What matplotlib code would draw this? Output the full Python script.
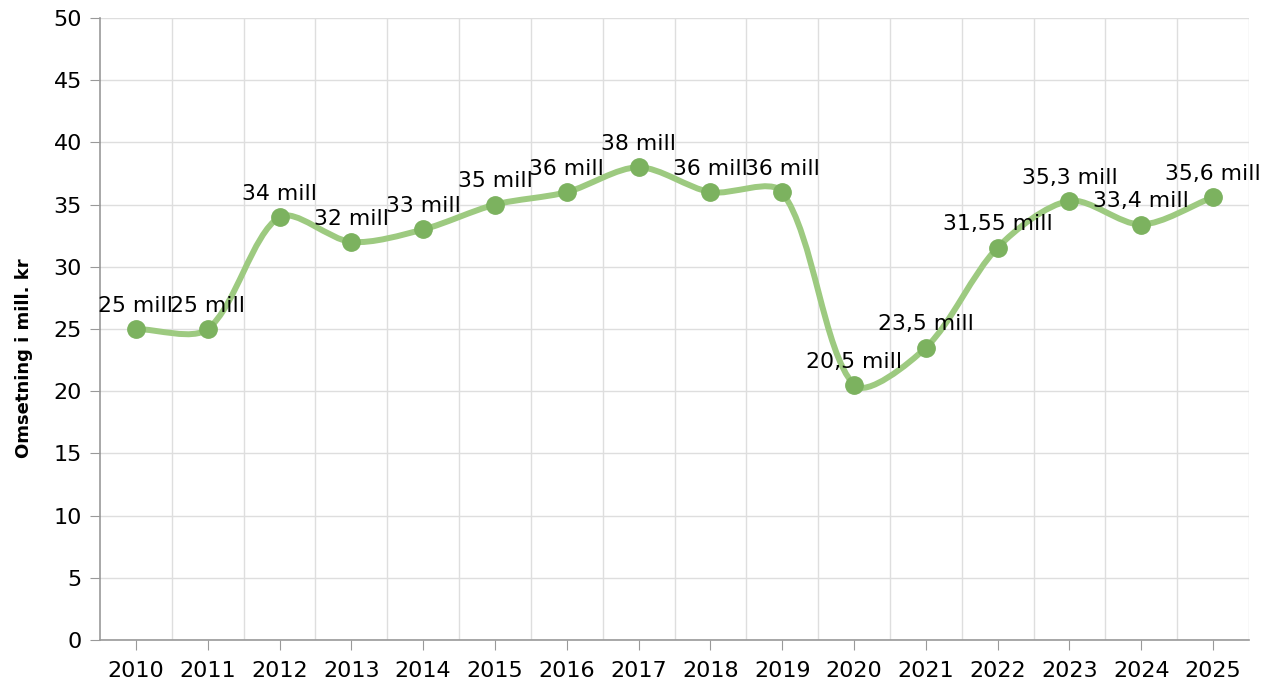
import matplotlib
matplotlib.use("Agg")
import matplotlib.pyplot as plt
import numpy as np
from matplotlib.path import Path
from matplotlib.patches import PathPatch

# data
years = ["2010", "2011", "2012", "2013", "2014", "2015", "2016", "2017",
         "2018", "2019", "2020", "2021", "2022", "2023", "2024", "2025"]
revenue = [25, 25, 34, 32, 33, 35, 36, 38, 36, 36, 20.5, 23.5, 31.55, 35.3, 33.4, 35.6]
labels = ["25 mill", "25 mill", "34 mill", "32 mill", "33 mill", "35 mill", "36 mill",
          "38 mill", "36 mill", "36 mill", "20,5 mill", "23,5 mill", "31,55 mill",
          "35,3 mill", "33,4 mill", "35,6 mill"]

line_col = "#9dca80"
dot_col = "#7cb25f"

fig = plt.figure(figsize=(12.63, 6.88), dpi=100)
ax = fig.add_axes([100 / 1263, 48 / 688, 1149 / 1263, 622 / 688])
ax.set_xlim(-0.5, 15.5)
ax.set_ylim(0, 50)

x = list(range(len(revenue)))
n = len(x)

# spline through the points, control points worked out in pixel space
tension = 0.3
pts = ax.transData.transform(np.column_stack([x, revenue]))
verts_px = [pts[0]]
prev_c = []
next_c = []
for i in range(n):
    p1 = pts[i]
    p0 = pts[i - 1] if i > 0 else p1
    p2 = pts[i + 1] if i < n - 1 else p1
    d01 = np.hypot(*(p1 - p0))
    d12 = np.hypot(*(p2 - p1))
    tot = d01 + d12
    s01 = d01 / tot if tot else 0
    s12 = d12 / tot if tot else 0
    prev_c.append(p1 - tension * s01 * (p2 - p0))
    next_c.append(p1 + tension * s12 * (p2 - p0))
codes = [Path.MOVETO]
for i in range(n - 1):
    verts_px += [next_c[i], prev_c[i + 1], pts[i + 1]]
    codes += [Path.CURVE4] * 3
verts = ax.transData.inverted().transform(np.array(verts_px))
ax.add_patch(PathPatch(Path(verts, codes), facecolor="none", edgecolor=line_col,
                       lw=4.3, capstyle="round", joinstyle="round", zorder=3))
ax.plot(x, revenue, "o", color=dot_col, markersize=12.5, zorder=4)

for xi, yi, lab in zip(x, revenue, labels):
    ax.annotate(lab, (xi, yi), xytext=(0, 12.5), textcoords="offset points",
                ha="center", va="baseline", fontsize=15.8, color="black", zorder=5)

ax.set_yticks(range(0, 51, 5))
ax.set_xticks(x)
ax.set_xticklabels(years)
ax.set_xticks([i + 0.5 for i in x], minor=True)
ax.tick_params(axis="x", which="minor", length=0)
ax.tick_params(axis="both", which="major", labelsize=16, color="#999999", length=7)
ax.tick_params(axis="x", pad=8)
ax.tick_params(axis="y", pad=6)

ax.grid(axis="y", which="major", color="#dedede", lw=1)
ax.grid(axis="x", which="minor", color="#dedede", lw=1)
ax.set_axisbelow(True)

for sp in ["top", "right"]:
    ax.spines[sp].set_visible(False)
for sp in ["left", "bottom"]:
    ax.spines[sp].set_color("#999999")
    ax.spines[sp].set_linewidth(1.2)

ax.set_ylabel("Omsetning i mill. kr", fontsize=13, fontweight="bold")
ax.yaxis.set_label_coords(-0.058, 0.453)

fig.savefig("out.png", dpi=100)
